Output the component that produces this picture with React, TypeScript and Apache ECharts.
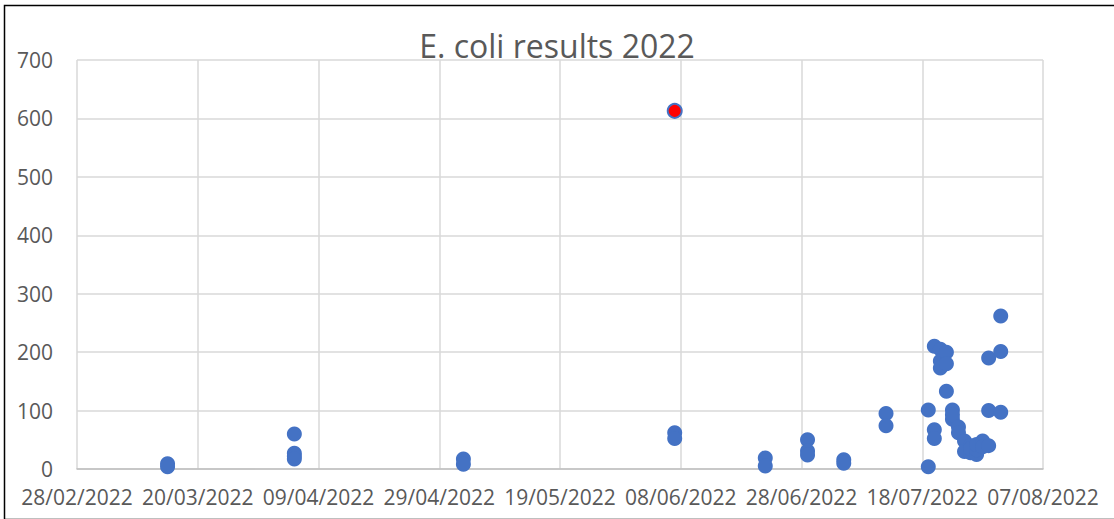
import React, { useEffect, useRef } from "react";
import * as echarts from "echarts";

const sampleDates: string[] = [
  "2022-03-15", "2022-03-15",
  "2022-04-05", "2022-04-05", "2022-04-05", "2022-04-05",
  "2022-05-03", "2022-05-03",
  "2022-06-07", "2022-06-07",
  "2022-06-22", "2022-06-22",
  "2022-06-29", "2022-06-29", "2022-06-29",
  "2022-07-05", "2022-07-05",
  "2022-07-12", "2022-07-12",
  "2022-07-19", "2022-07-19",
  "2022-07-20", "2022-07-20", "2022-07-20",
  "2022-07-21", "2022-07-21", "2022-07-21",
  "2022-07-22", "2022-07-22", "2022-07-22",
  "2022-07-23", "2022-07-23", "2022-07-23",
  "2022-07-24", "2022-07-24",
  "2022-07-25", "2022-07-25",
  "2022-07-26", "2022-07-26", "2022-07-26",
  "2022-07-27", "2022-07-27", "2022-07-27",
  "2022-07-28", "2022-07-28",
  "2022-07-29", "2022-07-29", "2022-07-29",
  "2022-07-31", "2022-07-31", "2022-07-31",
];

const ecoliValues: number[] = [
  9, 4,
  60, 27, 22, 17,
  17, 8,
  62, 52,
  19, 5,
  50, 31, 24,
  16, 10,
  95, 74,
  101, 4,
  210, 67, 52,
  205, 185, 173,
  200, 180, 133,
  101, 85, 93,
  72, 62,
  48, 30,
  40, 28, 35,
  25, 33, 42,
  48, 38,
  190, 100, 40,
  262, 201, 97,
];

const highlightDates: string[] = ["2022-06-07"];
const highlightValues: number[] = [613];

const xTickStart = "2022-02-28";
const xTickEnd = "2022-08-07";
const xTickDays = 20;
const yTicks: number[] = [0, 100, 200, 300, 400, 500, 600, 700];

const EXCEL_EPOCH = Date.UTC(1899, 11, 30);
const DAY = 86400000;

function toSerial(s: string): number {
  const [y, m, d] = s.split("-").map(Number);
  return Math.round((Date.UTC(y, m - 1, d) - EXCEL_EPOCH) / DAY);
}

function fmtSerial(v: number): string {
  const dt = new Date(EXCEL_EPOCH + Math.round(v) * DAY);
  const dd = String(dt.getUTCDate()).padStart(2, "0");
  const mm = String(dt.getUTCMonth() + 1).padStart(2, "0");
  return `${dd}/${mm}/${dt.getUTCFullYear()}`;
}

const FONT = "'Open Sans', 'Noto Sans', sans-serif";
const TEXT = "#595959";

export default function App() {
  const ref = useRef<HTMLDivElement>(null);

  useEffect(() => {
    if (!ref.current) return;
    const chart = echarts.init(ref.current, undefined, { renderer: "svg" });
    const mainData = sampleDates.map((d, i) => [toSerial(d), ecoliValues[i]]);
    const hiData = highlightDates.map((d, i) => [toSerial(d), highlightValues[i]]);

    chart.setOption({
      animation: false,
      backgroundColor: "#ffffff",
      title: {
        text: "E. coli results 2022",
        left: "center",
        top: 24,
        textStyle: { fontFamily: FONT, fontSize: 32, fontWeight: "normal", color: TEXT },
      },
      grid: { left: 77, right: 71, top: 60, bottom: 50, containLabel: false },
      xAxis: {
        type: "value",
        min: toSerial(xTickStart),
        max: toSerial(xTickEnd),
        interval: xTickDays,
        axisLine: { show: true, lineStyle: { color: "#bfbfbf", width: 1.5 } },
        axisTick: { show: false },
        splitLine: { show: true, lineStyle: { color: "#d9d9d9", width: 1.5 } },
        axisLabel: {
          formatter: (v: number) => fmtSerial(v),
          fontFamily: FONT,
          fontSize: 21,
          color: TEXT,
          margin: 17,
          showMinLabel: true,
          showMaxLabel: true,
        },
      },
      yAxis: {
        type: "value",
        min: yTicks[0],
        max: yTicks[yTicks.length - 1],
        interval: yTicks[1] - yTicks[0],
        axisLine: { show: false },
        axisTick: { show: false },
        splitLine: { show: true, lineStyle: { color: "#d9d9d9", width: 1.5 } },
        axisLabel: { fontFamily: FONT, fontSize: 21, color: TEXT, margin: 24 },
      },
      graphic: [
        {
          type: "rect",
          left: 2,
          top: 3,
          shape: { width: 1130, height: 514 },
          style: { fill: "none", stroke: "#000000", lineWidth: 1.5 },
          silent: true,
        },
      ],
      series: [
        {
          type: "scatter",
          data: mainData,
          symbolSize: 15,
          itemStyle: { color: "#4472c4", opacity: 1 },
        },
        {
          type: "scatter",
          data: hiData,
          symbolSize: 14,
          itemStyle: { color: "#ff0000", borderColor: "#4472c4", borderWidth: 2, opacity: 1 },
        },
      ],
    });
    return () => chart.dispose();
  }, []);

  return (
    <div
      ref={ref}
      style={{ position: "fixed", left: 0, top: 0, width: 1114, height: 519 }}
    />
  );
}
